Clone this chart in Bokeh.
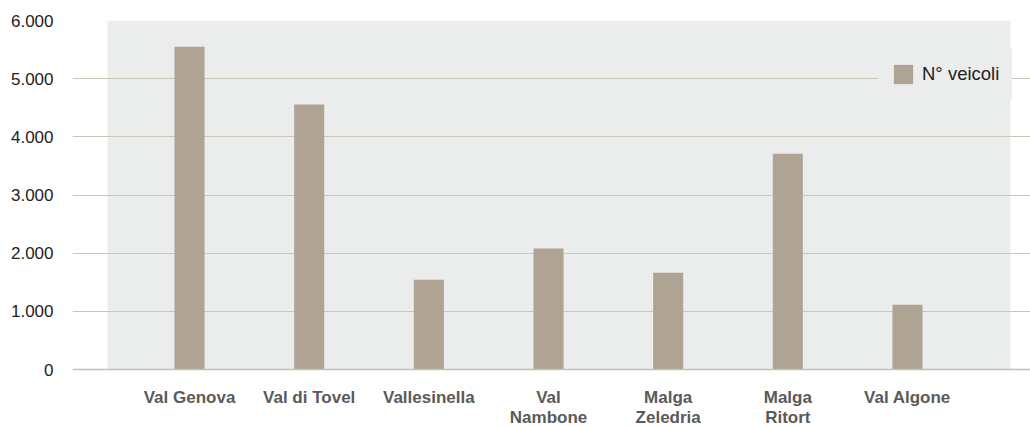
from bokeh.plotting import figure
from bokeh.models import (ColumnDataSource, FixedTicker, Range1d, Legend,
                          LegendItem, Span)
from bokeh.core.properties import value
from bokeh.embed import file_html
from bokeh.resources import INLINE

# Vehicle counts per valley / access point
categories = ["Val Genova", "Val di Tovel", "Vallesinella", "Val\nNambone",
              "Malga\nZeledria", "Malga\nRitort", "Val Algone"]
vehicles = [5550, 4555, 1545, 2080, 1665, 3710, 1115]
y_ticks = [0, 1000, 2000, 3000, 4000, 5000, 6000]
y_tick_labels = ["0", "1.000", "2.000", "3.000", "4.000", "5.000", "6.000"]

FONT = "Liberation Sans"
BAR = "#AFA393"
PANEL = "#EBECEC"
GRID = "#CBC7B8"

xpos = list(range(len(categories)))
src = ColumnDataSource(dict(x=xpos, top=vehicles, name=categories,
                            zero=[0] * len(categories)))

# frame runs to the bottom of the canvas; the strip below zero holds the
# category names
p = figure(width=1030, height=427, output_backend="svg", toolbar_location=None,
           x_range=Range1d(-0.978, 7.028), y_range=Range1d(-997, 6000),
           min_border_left=72, min_border_right=0, min_border_top=20,
           min_border_bottom=0)
p.outline_line_color = None
p.background_fill_color = "white"
p.border_fill_color = "white"

# light panel behind the bars, drawn beneath the grid
p.quad(left=[-0.685], right=[6.861], bottom=[0], top=[6000],
       fill_color=PANEL, line_color=None, level="image")

bars = p.vbar(x="x", top="top", width=0.251, bottom=0, source=src,
              fill_color=BAR, line_color=None)

# category names under each bar
p.text(x="x", y="zero", text="name", source=src, y_offset=18,
       text_align="center", text_baseline="top",
       text_font=value(FONT), text_font_size="17px", text_font_style="bold",
       text_color="#5A5A5A", text_line_height=1.08)

p.xgrid.grid_line_color = None
p.ygrid.grid_line_color = GRID
p.ygrid.grid_line_width = 1
p.ygrid.ticker = FixedTicker(ticks=y_ticks[1:])

# baseline
p.add_layout(Span(location=0, dimension="width", line_color="#C4C0B2",
                  line_width=1.5))

p.xaxis.visible = False

# y axis
ya = p.yaxis[0]
ya.ticker = FixedTicker(ticks=y_ticks)
ya.major_label_overrides = {t: s for t, s in zip(y_ticks, y_tick_labels)}
ya.axis_line_color = None
ya.major_tick_line_color = None
ya.minor_tick_line_color = None
ya.major_tick_in = 0
ya.major_tick_out = 0
ya.major_label_standoff = 19
ya.major_label_text_font = FONT
ya.major_label_text_font_size = "17px"
ya.major_label_text_color = "#222222"

# bar swatches are inset by 10% of the glyph box, so 24px gives a ~19px square
legend = Legend(items=[LegendItem(label="N° veicoli", renderers=[bars])],
                location=(806, 328), orientation="vertical",
                background_fill_color=PANEL, background_fill_alpha=1.0,
                border_line_color=PANEL, border_line_width=1,
                padding=12, margin=0, spacing=0,
                glyph_width=24, glyph_height=24, label_height=24,
                label_standoff=7, label_text_font=FONT,
                label_text_font_size="18.5px", label_text_color="#222222")
p.add_layout(legend)

open("out.html", "w").write(file_html(p, INLINE))
